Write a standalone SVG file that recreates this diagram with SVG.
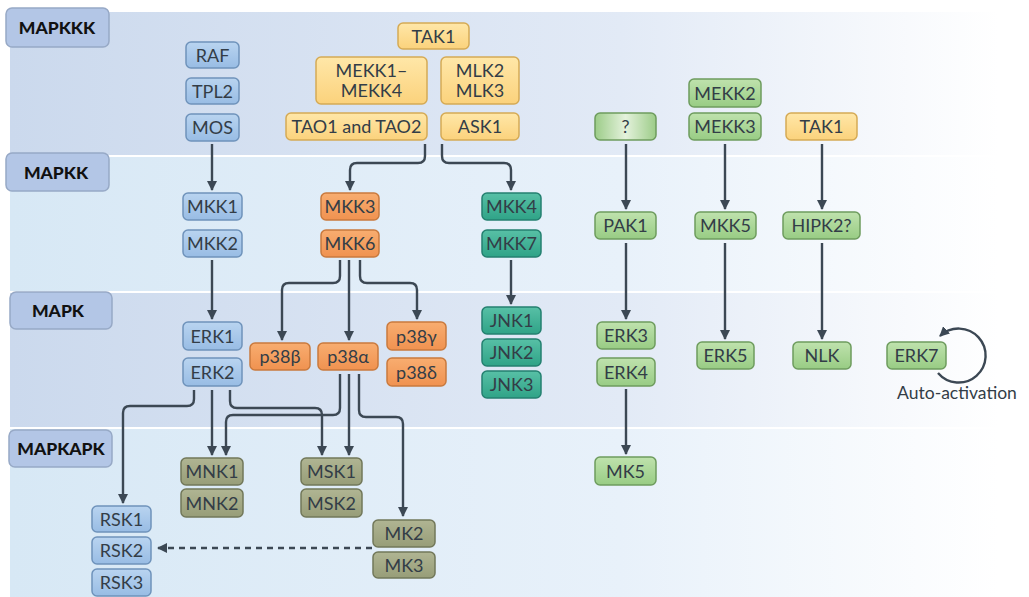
<svg xmlns="http://www.w3.org/2000/svg" width="1029" height="597" viewBox="0 0 1029 597">
<defs>
<linearGradient id="bandA" x1="0" y1="0" x2="1" y2="0"><stop offset="0" stop-color="#cbd9ed"/><stop offset="0.6" stop-color="#e2eaf6"/><stop offset="0.97" stop-color="#ffffff"/></linearGradient>
<linearGradient id="bandB" x1="0" y1="0" x2="1" y2="0"><stop offset="0" stop-color="#d7e8f5"/><stop offset="0.6" stop-color="#e8f1fa"/><stop offset="0.97" stop-color="#ffffff"/></linearGradient>
<linearGradient id="gBlue" x1="0" y1="0" x2="0" y2="1"><stop offset="0" stop-color="#b9d4f0"/><stop offset="1" stop-color="#98bce4"/></linearGradient>
<linearGradient id="gYel" x1="0" y1="0" x2="0" y2="1"><stop offset="0" stop-color="#ffe7a8"/><stop offset="1" stop-color="#fbd27c"/></linearGradient>
<linearGradient id="gOra" x1="0" y1="0" x2="0" y2="1"><stop offset="0" stop-color="#f8ad70"/><stop offset="1" stop-color="#f09250"/></linearGradient>
<linearGradient id="gTeal" x1="0" y1="0" x2="0" y2="1"><stop offset="0" stop-color="#58c0a6"/><stop offset="1" stop-color="#2fa387"/></linearGradient>
<linearGradient id="gOli" x1="0" y1="0" x2="0" y2="1"><stop offset="0" stop-color="#b0b593"/><stop offset="1" stop-color="#979d78"/></linearGradient>
<linearGradient id="gGrn" x1="0" y1="0" x2="0" y2="1"><stop offset="0" stop-color="#bfe2ad"/><stop offset="1" stop-color="#98cc84"/></linearGradient>
<linearGradient id="gQ" x1="0" y1="0" x2="1" y2="0"><stop offset="0" stop-color="#9ccc88"/><stop offset="0.5" stop-color="#e4f2dc"/><stop offset="1" stop-color="#9ccc88"/></linearGradient>
<marker id="ah" viewBox="0 0 10 10" refX="9" refY="5" markerWidth="10" markerHeight="10" markerUnits="userSpaceOnUse" orient="auto"><path d="M0,0 L10,5 L0,10 z" fill="#3c4854"/></marker>
</defs>
<style>
.lbl rect{fill:#b3c6e6;stroke:#97a9c6;stroke-width:1.5}
.lbl text{font-family:Lato,"Open Sans",sans-serif;font-weight:900;font-size:17.5px;fill:#111;text-anchor:middle}
.n rect{stroke-width:1.5}
.n text{font-family:Lato,"Open Sans",sans-serif;font-size:18px;fill:#333d47;text-anchor:middle}
.b rect{fill:url(#gBlue);stroke:#6f93bb}
.y rect{fill:url(#gYel);stroke:#d5aa55}
.o rect{fill:url(#gOra);stroke:#c97a3e}
.t rect{fill:url(#gTeal);stroke:#248070}
.v rect{fill:url(#gOli);stroke:#72785a}
.g rect{fill:url(#gGrn);stroke:#6e9c5e}
.c path{fill:none;stroke:#3c4854;stroke-width:2.4;marker-end:url(#ah)}
.note{font-family:Lato,"Open Sans",sans-serif;font-size:17.5px;fill:#333d47;text-anchor:middle}
</style>
<rect width="1029" height="597" fill="#ffffff"/>
<g id="bands">
<rect x="10" y="12" width="1019" height="143" fill="url(#bandA)"/>
<rect x="10" y="157" width="1019" height="134" fill="url(#bandB)"/>
<rect x="10" y="293" width="1019" height="134" fill="url(#bandA)"/>
<rect x="10" y="429" width="1019" height="168" fill="url(#bandB)"/>
</g>
<g id="label-mapkkk" class="lbl"><rect x="6" y="8" width="103" height="39" rx="6"/><text x="57" y="34">MAPKKK</text></g>
<g id="label-mapkk" class="lbl"><rect x="6" y="153" width="103" height="38" rx="6"/><text x="56" y="179">MAPKK</text></g>
<g id="label-mapk" class="lbl"><rect x="10" y="292" width="102" height="37" rx="6"/><text x="58" y="317">MAPK</text></g>
<g id="label-mapkapk" class="lbl"><rect x="9" y="430" width="103" height="37" rx="6"/><text x="61" y="455">MAPKAPK</text></g>

<g id="connectors" class="c">
<path d="M212,144 V190"/>
<path d="M425,144 V156 Q425,163 418,163 H357 Q350,163 350,170 V190"/>
<path d="M442,144 V156 Q442,163 449,163 H504 Q511,163 511,170 V190"/>
<path d="M212,260 V319"/>
<path d="M340,260 V276 Q340,283 333,283 H289 Q282,283 282,290 V340"/>
<path d="M349,260 V340"/>
<path d="M360,260 V276 Q360,283 367,283 H410 Q417,283 417,290 V319"/>
<path d="M511,260 V304"/>
<path d="M626,144 V209"/>
<path d="M725,144 V209"/>
<path d="M822,144 V209"/>
<path d="M626,243 V319"/>
<path d="M725,243 V339"/>
<path d="M822,243 V339"/>
<path d="M626,389 V454"/>
<path d="M194,390 V399 Q194,406 187,406 H130 Q123,406 123,413 V503"/>
<path d="M212,390 V455"/>
<path d="M230,390 V401 Q230,408 237,408 H315 Q322,408 322,415 V455"/>
<path d="M340,374 V408 Q340,415 333,415 H233 Q226,415 226,422 V455"/>
<path d="M349,374 V455"/>
<path d="M359,374 V410 Q359,417 366,417 H396 Q403,417 403,424 V516"/>
<path d="M372,548 H158" stroke-dasharray="6,5" stroke="#5a6670"/>
<path d="M938,373 A27,27 0 1 0 940,336"/>
</g>

<g id="RAF" class="n b"><rect x="186" y="42" width="53" height="26" rx="5"/><text x="212.5" y="61.5">RAF</text></g>
<g id="TPL2" class="n b"><rect x="186" y="78" width="53" height="26" rx="5"/><text x="212.5" y="97.5">TPL2</text></g>
<g id="MOS" class="n b"><rect x="186" y="114" width="53" height="27" rx="5"/><text x="212.5" y="134">MOS</text></g>
<g id="TAK1-top" class="n y"><rect x="398" y="23" width="71" height="26" rx="5"/><text x="433.5" y="42.5">TAK1</text></g>
<g id="MEKK1-MEKK4" class="n y"><rect x="316" y="57" width="111" height="47" rx="5"/><text x="371.5" y="77">MEKK1–</text><text x="371.5" y="97">MEKK4</text></g>
<g id="MLK2-MLK3" class="n y"><rect x="441" y="57" width="78" height="47" rx="5"/><text x="480" y="77">MLK2</text><text x="480" y="97">MLK3</text></g>
<g id="TAO1-TAO2" class="n y"><rect x="286" y="113" width="141" height="27" rx="5"/><text x="356.5" y="133">TAO1 and TAO2</text></g>
<g id="ASK1" class="n y"><rect x="441" y="113" width="78" height="27" rx="5"/><text x="480" y="133">ASK1</text></g>
<g id="Q" class="n g"><rect x="595" y="113" width="61" height="27" rx="5" style="fill:url(#gQ)"/><text x="625.5" y="133">?</text></g>
<g id="MEKK2" class="n g"><rect x="689" y="79" width="72" height="28" rx="5"/><text x="725" y="99.5">MEKK2</text></g>
<g id="MEKK3" class="n g"><rect x="689" y="113" width="72" height="27" rx="5"/><text x="725" y="133">MEKK3</text></g>
<g id="TAK1-right" class="n y"><rect x="786" y="113" width="71" height="27" rx="5"/><text x="821.5" y="133">TAK1</text></g>

<g id="MKK1" class="n b"><rect x="183" y="193" width="59" height="27" rx="5"/><text x="212.5" y="213">MKK1</text></g>
<g id="MKK2" class="n b"><rect x="183" y="230" width="59" height="27" rx="5"/><text x="212.5" y="250">MKK2</text></g>
<g id="MKK3" class="n o"><rect x="321" y="193" width="58" height="27" rx="5"/><text x="350" y="213">MKK3</text></g>
<g id="MKK6" class="n o"><rect x="321" y="230" width="58" height="27" rx="5"/><text x="350" y="250">MKK6</text></g>
<g id="MKK4" class="n t"><rect x="482" y="193" width="59" height="27" rx="5"/><text x="511.5" y="213">MKK4</text></g>
<g id="MKK7" class="n t"><rect x="482" y="230" width="59" height="27" rx="5"/><text x="511.5" y="250">MKK7</text></g>
<g id="PAK1" class="n g"><rect x="595" y="212" width="61" height="27" rx="5"/><text x="625.5" y="232">PAK1</text></g>
<g id="MKK5" class="n g"><rect x="695" y="212" width="61" height="27" rx="5"/><text x="725.5" y="232">MKK5</text></g>
<g id="HIPK2" class="n g"><rect x="783" y="212" width="77" height="27" rx="5"/><text x="821.5" y="232">HIPK2?</text></g>

<g id="ERK1" class="n b"><rect x="183" y="322" width="59" height="28" rx="5"/><text x="212.5" y="342.5">ERK1</text></g>
<g id="ERK2" class="n b"><rect x="183" y="358" width="59" height="28" rx="5"/><text x="212.5" y="378.5">ERK2</text></g>
<g id="p38b" class="n o"><rect x="250" y="343" width="60" height="27" rx="5"/><text x="280" y="363">p38β</text></g>
<g id="p38a" class="n o"><rect x="318" y="343" width="60" height="27" rx="5"/><text x="348" y="363">p38α</text></g>
<g id="p38g" class="n o"><rect x="387" y="322" width="59" height="28" rx="5"/><text x="416.5" y="342.5">p38γ</text></g>
<g id="p38d" class="n o"><rect x="387" y="358" width="59" height="28" rx="5"/><text x="416.5" y="378.5">p38δ</text></g>
<g id="JNK1" class="n t"><rect x="482" y="307" width="59" height="27" rx="5"/><text x="511.5" y="327">JNK1</text></g>
<g id="JNK2" class="n t"><rect x="482" y="339" width="59" height="27" rx="5"/><text x="511.5" y="359">JNK2</text></g>
<g id="JNK3" class="n t"><rect x="482" y="371" width="59" height="27" rx="5"/><text x="511.5" y="391">JNK3</text></g>
<g id="ERK3" class="n g"><rect x="597" y="322" width="58" height="27" rx="5"/><text x="626" y="342">ERK3</text></g>
<g id="ERK4" class="n g"><rect x="597" y="358" width="58" height="28" rx="5"/><text x="626" y="378.5">ERK4</text></g>
<g id="ERK5" class="n g"><rect x="697" y="342" width="57" height="27" rx="5"/><text x="725.5" y="362">ERK5</text></g>
<g id="NLK" class="n g"><rect x="793" y="342" width="58" height="27" rx="5"/><text x="822" y="362">NLK</text></g>
<g id="ERK7" class="n g"><rect x="887" y="342" width="59" height="27" rx="5"/><text x="916.5" y="362">ERK7</text></g>
<text class="note" x="957" y="399">Auto-activation</text>

<g id="MNK1" class="n v"><rect x="181" y="458" width="62" height="27" rx="5"/><text x="212" y="478">MNK1</text></g>
<g id="MNK2" class="n v"><rect x="181" y="489" width="62" height="28" rx="5"/><text x="212" y="509.5">MNK2</text></g>
<g id="MSK1" class="n v"><rect x="301" y="458" width="61" height="27" rx="5"/><text x="331.5" y="478">MSK1</text></g>
<g id="MSK2" class="n v"><rect x="301" y="489" width="61" height="28" rx="5"/><text x="331.5" y="509.5">MSK2</text></g>
<g id="MK2" class="n v"><rect x="373" y="520" width="62" height="27" rx="5"/><text x="404" y="540">MK2</text></g>
<g id="MK3" class="n v"><rect x="373" y="552" width="62" height="26" rx="5"/><text x="404" y="571.5">MK3</text></g>
<g id="RSK1" class="n b"><rect x="92" y="506" width="59" height="26" rx="5"/><text x="121.5" y="525.5">RSK1</text></g>
<g id="RSK2" class="n b"><rect x="92" y="537" width="59" height="27" rx="5"/><text x="121.5" y="557">RSK2</text></g>
<g id="RSK3" class="n b"><rect x="92" y="569" width="59" height="27" rx="5"/><text x="121.5" y="589">RSK3</text></g>
<g id="MK5" class="n g"><rect x="595" y="457" width="61" height="28" rx="5"/><text x="625.5" y="477.5">MK5</text></g>
</svg>
